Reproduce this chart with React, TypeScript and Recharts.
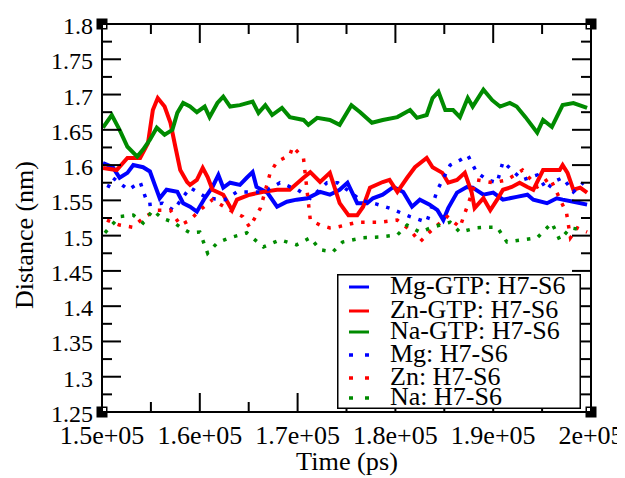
import React from "react";
import { LineChart, Line, XAxis, YAxis, ReferenceDot, Legend } from "recharts";

const FONT = "Liberation Serif";
const BLUE = "#0000ff";
const RED = "#ff0000";
const GREEN = "#008b00";

// ---- axis ticks ----
const xMajorTicks = [150000, 160000, 170000, 180000, 190000, 200000];
const xTickLabels = ["1.5e+05", "1.6e+05", "1.7e+05", "1.8e+05", "1.9e+05", "2e+05"];
const xMinorTicks = [155000, 165000, 175000, 185000, 195000];
const yMajorTicks = [1.25, 1.3, 1.35, 1.4, 1.45, 1.5, 1.55, 1.6, 1.65, 1.7, 1.75, 1.8];
const yTickLabels = ["1.25", "1.3", "1.35", "1.4", "1.45", "1.5", "1.55", "1.6", "1.65", "1.7", "1.75", "1.8"];
const yMinorTicks = [1.275, 1.325, 1.375, 1.425, 1.475, 1.525, 1.575, 1.625, 1.675, 1.725, 1.775];

// ---- series: [time (ps), distance (nm)] ----
const mgGtp: [number, number][] = [
  [150100, 1.603], [151100, 1.597], [151800, 1.582], [152600, 1.589], [153200, 1.6], [154200, 1.597],
  [154900, 1.591], [155400, 1.572], [155900, 1.553], [156600, 1.565], [157700, 1.562], [158300, 1.546],
  [159000, 1.541], [159700, 1.534], [160500, 1.553], [161300, 1.569], [161900, 1.586], [162400, 1.568],
  [163100, 1.575], [164100, 1.572], [164800, 1.582], [165400, 1.59], [165800, 1.569], [166900, 1.561],
  [167900, 1.541], [168900, 1.548], [169900, 1.551], [171000, 1.553], [172300, 1.562], [173300, 1.558],
  [174300, 1.565], [175100, 1.575], [176100, 1.546], [177100, 1.546], [177700, 1.553], [178700, 1.558],
  [179800, 1.569], [180800, 1.562], [181700, 1.541], [182500, 1.551], [183500, 1.544], [184300, 1.536],
  [184900, 1.522], [185400, 1.539], [186300, 1.561], [187300, 1.569], [187900, 1.568], [189000, 1.558],
  [190000, 1.561], [191000, 1.551], [192400, 1.555], [193500, 1.558], [194100, 1.551], [195500, 1.546],
  [196500, 1.553], [197100, 1.551], [198200, 1.548], [199600, 1.544],
];

const znGtp: [number, number][] = [
  [150100, 1.596], [151500, 1.593], [152600, 1.61], [153900, 1.61], [154700, 1.631], [155200, 1.678],
  [155700, 1.695], [156400, 1.683], [157000, 1.66], [157500, 1.626], [158000, 1.593], [158700, 1.576],
  [159000, 1.572], [159700, 1.579], [160300, 1.596], [160800, 1.583], [161300, 1.565], [162400, 1.558],
  [163300, 1.536], [163800, 1.551], [165100, 1.558], [166500, 1.562], [167900, 1.565], [169200, 1.565],
  [170600, 1.582], [171300, 1.59], [172300, 1.576], [173300, 1.589], [174300, 1.546], [175200, 1.529],
  [176100, 1.529], [176700, 1.541], [177400, 1.568], [178700, 1.576], [179400, 1.579], [180200, 1.562],
  [181200, 1.582], [182000, 1.597], [183200, 1.61], [183800, 1.597], [184800, 1.589], [185400, 1.575],
  [186300, 1.579], [187100, 1.589], [187800, 1.561], [188100, 1.539], [189000, 1.553], [189700, 1.536],
  [190400, 1.551], [191000, 1.565], [191900, 1.569], [192700, 1.575], [193500, 1.569], [194100, 1.565],
  [195100, 1.593], [195800, 1.593], [196800, 1.593], [197100, 1.6], [197600, 1.589], [198200, 1.565],
  [198900, 1.568], [199600, 1.561],
];

const naGtp: [number, number][] = [
  [150100, 1.653], [151000, 1.671], [151800, 1.65], [152600, 1.626], [153600, 1.612], [154200, 1.622],
  [154900, 1.636], [155600, 1.653], [156400, 1.643], [157200, 1.65], [157700, 1.674], [158300, 1.688],
  [159000, 1.683], [159700, 1.675], [160500, 1.683], [161000, 1.668], [161800, 1.688], [162400, 1.697],
  [163100, 1.683], [164100, 1.685], [165400, 1.69], [166000, 1.674], [166700, 1.685], [167400, 1.671],
  [168400, 1.681], [169200, 1.668], [170600, 1.664], [171100, 1.657], [172000, 1.667], [173300, 1.664],
  [174300, 1.657], [175500, 1.685], [176400, 1.675], [177600, 1.66], [178700, 1.664], [180200, 1.668],
  [181500, 1.678], [182200, 1.667], [183200, 1.671], [183800, 1.695], [184400, 1.704], [185100, 1.678],
  [185900, 1.678], [186600, 1.668], [187400, 1.695], [187900, 1.683], [189000, 1.707], [189900, 1.692],
  [190700, 1.683], [191700, 1.688], [192400, 1.683], [193300, 1.668], [194500, 1.646], [195100, 1.664],
  [196000, 1.654], [197100, 1.685], [198200, 1.688], [199600, 1.681],
];

const mgFree: [number, number][] = [
  [150600, 1.568], [151100, 1.582], [152700, 1.565], [153900, 1.576], [154700, 1.544], [156200, 1.546],
  [157300, 1.536], [159000, 1.568], [160800, 1.553], [162600, 1.551], [163800, 1.562], [166500, 1.562],
  [168200, 1.575], [170000, 1.565], [171300, 1.553], [173000, 1.575], [174100, 1.575], [176500, 1.55],
  [178000, 1.545], [179400, 1.539], [181500, 1.527], [183200, 1.519], [184300, 1.565], [185600, 1.6],
  [186600, 1.607], [187400, 1.614], [188300, 1.59], [189400, 1.579], [190400, 1.575], [191000, 1.605],
  [191900, 1.593], [193000, 1.579], [194500, 1.586], [195500, 1.565], [196100, 1.576], [197100, 1.582],
  [198200, 1.562], [199200, 1.575],
];

const znFree: [number, number][] = [
  [150500, 1.522], [151800, 1.515], [153100, 1.512], [154400, 1.527], [155600, 1.536], [157000, 1.536],
  [158000, 1.515], [159000, 1.522], [160000, 1.536], [161300, 1.551], [163100, 1.536], [164400, 1.527],
  [165100, 1.512], [166200, 1.539], [167200, 1.589], [167900, 1.605], [169200, 1.614], [169500, 1.626],
  [170600, 1.61], [171300, 1.522], [172300, 1.515], [173300, 1.511], [174000, 1.512], [176100, 1.519],
  [178400, 1.519], [180200, 1.522], [181500, 1.508], [182500, 1.491], [183500, 1.505], [185300, 1.527],
  [186600, 1.512], [188300, 1.579], [190000, 1.575], [191400, 1.579], [193000, 1.593], [194500, 1.569],
  [195800, 1.582], [197500, 1.532], [197900, 1.497], [198600, 1.511], [199600, 1.505],
];

const naFree: [number, number][] = [
  [150300, 1.504], [150800, 1.512], [151800, 1.527], [153200, 1.529], [154200, 1.518], [155200, 1.536],
  [156100, 1.525], [157300, 1.519], [158000, 1.512], [159000, 1.504], [160000, 1.505], [160800, 1.475],
  [161800, 1.49], [163100, 1.497], [164800, 1.504], [166500, 1.484], [168200, 1.494], [169900, 1.487],
  [171300, 1.497], [172300, 1.48], [173600, 1.477], [174600, 1.491], [176700, 1.497], [178400, 1.498],
  [180200, 1.501], [181200, 1.515], [182500, 1.505], [183800, 1.512], [185600, 1.519], [186600, 1.505],
  [188300, 1.511], [189400, 1.512], [190400, 1.512], [191400, 1.491], [193000, 1.494], [194500, 1.497],
  [196000, 1.518], [196800, 1.494], [197900, 1.511], [199200, 1.508],
];

const seriesNames = ["Mg-GTP: H7-S6", "Zn-GTP: H7-S6", "Na-GTP: H7-S6", "Mg: H7-S6", "Zn: H7-S6", "Na: H7-S6"];
const seriesColors = [BLUE, RED, GREEN, BLUE, RED, GREEN];
const seriesDotted = [false, false, false, true, true, true];
const seriesData = [mgGtp, znGtp, naGtp, mgFree, znFree, naFree];

const toRows = (arr: [number, number][]) => arr.map(([t, d]) => ({ t, d }));

const W = 617;
const H = 470;
const MAJOR = 19;
const MINOR = 10;

const xTicksAll = [...xMajorTicks, ...xMinorTicks].sort((a, b) => a - b);
const yTicksAll = [...yMajorTicks, ...yMinorTicks].sort((a, b) => a - b);

// Times-style advance widths (em), used to keep text at its serif width
const ADV: Record<string, number> = {
  "0": 0.5, "1": 0.5, "2": 0.5, "3": 0.5, "4": 0.5, "5": 0.5, "6": 0.5, "7": 0.5, "8": 0.5, "9": 0.5,
  ".": 0.25, e: 0.444, "+": 0.564, M: 0.889, g: 0.5, "-": 0.333, G: 0.722, T: 0.611, P: 0.556, ":": 0.278,
  " ": 0.25, H: 0.722, S: 0.556, Z: 0.611, n: 0.5, N: 0.722, a: 0.444, i: 0.278, m: 0.778, "(": 0.333,
  ")": 0.333, p: 0.5, s: 0.389, D: 0.722, t: 0.278, c: 0.444,
};
const serifWidth = (s: string, size: number) =>
  s.split("").reduce((acc, ch) => acc + (ADV[ch] ?? 0.5), 0) * size;

const CSS = `
#rs-root text.rsf, #rs-root .rsf, #rs-root .rsf tspan {
  font-family: "Liberation Serif" !important;
}
`;

function T(props: any) {
  const { size, children, ...rest } = props;
  const str = String(children);
  return (
    <text
      {...rest}
      className="rsf"
      fill="#000"
      fontFamily={FONT}
      fontSize={size}
      style={{ fontFamily: FONT, fontSize: size }}
      textLength={serifWidth(str, size)}
      lengthAdjust="spacingAndGlyphs"
    >
      {str}
    </text>
  );
}

function BottomTick(props: any) {
  const { x, y, payload } = props;
  const i = xMajorTicks.indexOf(payload.value);
  const len = i >= 0 ? MAJOR : MINOR;
  return (
    <g>
      <line x1={x} x2={x} y1={y} y2={y - len} stroke="#000" strokeWidth={2} />
      {i >= 0 && (
        <T x={x} y={y + 32} textAnchor="middle" size={26}>
          {xTickLabels[i]}
        </T>
      )}
    </g>
  );
}

function TopTick(props: any) {
  const { x, y, payload } = props;
  const len = xMajorTicks.indexOf(payload.value) >= 0 ? MAJOR : MINOR;
  return <line x1={x} x2={x} y1={y} y2={y + len} stroke="#000" strokeWidth={2} />;
}

function LeftTick(props: any) {
  const { x, y, payload } = props;
  const i = yMajorTicks.indexOf(payload.value);
  const len = i >= 0 ? MAJOR : MINOR;
  return (
    <g>
      <line x1={x} x2={x + len} y1={y} y2={y} stroke="#000" strokeWidth={2} />
      {i >= 0 && (
        <T x={x - 9} y={y + 10} textAnchor="end" size={24}>
          {yTickLabels[i]}
        </T>
      )}
    </g>
  );
}

function RightTick(props: any) {
  const { x, y, payload } = props;
  const len = yMajorTicks.indexOf(payload.value) >= 0 ? MAJOR : MINOR;
  return <line x1={x} x2={x - len} y1={y} y2={y} stroke="#000" strokeWidth={2} />;
}

const cornerShape = (sx: number, sy: number) => (p: any) => {
  const { cx, cy } = p;
  return (
    <g>
      <rect x={cx - 5.5} y={cy - 5.5} width={11} height={11} fill="#000" />
      <rect x={sx > 0 ? cx : cx - 4} y={sy > 0 ? cy : cy - 4} width={4} height={4} fill="#fff" />
    </g>
  );
};

const LEG_W = 244;
const LEG_H = 135;
const legendRows = [13, 37, 58, 81, 104, 124];

const renderLegend = () => (
  <svg width={LEG_W} height={LEG_H} style={{ display: "block" }}>
    <rect x={0.75} y={0.75} width={LEG_W - 1.5} height={LEG_H - 1.5} fill="#fff" stroke="#000" strokeWidth={1.5} />
    {seriesNames.map((name, i) => (
      <g key={name}>
        <line
          x1={12}
          x2={32}
          y1={legendRows[i]}
          y2={legendRows[i]}
          stroke={seriesColors[i]}
          strokeWidth={seriesDotted[i] ? 3.5 : 3}
          strokeDasharray={seriesDotted[i] ? "4 12" : undefined}
        />
        <T x={53} y={legendRows[i] + 7} size={26}>
          {name}
        </T>
      </g>
    ))}
  </svg>
);

export default function App() {
  return (
    <div id="rs-root" style={{ width: W, height: H, background: "#fff" }}>
      <style>{CSS}</style>
      <LineChart width={W} height={H} margin={{ top: 0, right: 0, bottom: 0, left: 0 }}>
        <XAxis
          dataKey="t"
          type="number"
          domain={[150000, 200000]}
          allowDataOverflow
          ticks={xTicksAll}
          interval={0}
          height={66}
          tickSize={0}
          tickMargin={0}
          tickLine={false}
          axisLine={{ stroke: "#000", strokeWidth: 2 }}
          tick={BottomTick}
          label={() => (
            <T x={339} y={462} textAnchor="middle" size={26}>
              Time (ps)
            </T>
          )}
        />
        <XAxis
          xAxisId="top"
          orientation="top"
          dataKey="t"
          type="number"
          domain={[150000, 200000]}
          allowDataOverflow
          ticks={xTicksAll}
          interval={0}
          height={16}
          tickSize={0}
          tickMargin={0}
          tickLine={false}
          axisLine={{ stroke: "#000", strokeWidth: 2 }}
          tick={TopTick}
        />
        <YAxis
          dataKey="d"
          type="number"
          domain={[1.25, 1.8]}
          allowDataOverflow
          ticks={yTicksAll}
          interval={0}
          width={94}
          tickSize={0}
          tickMargin={0}
          tickLine={false}
          axisLine={{ stroke: "#000", strokeWidth: 2 }}
          tick={LeftTick}
          label={() => (
            <T x={25} y={227} transform="rotate(-90 25 227)" textAnchor="middle" size={26}>
              Distance (nm)
            </T>
          )}
        />
        <YAxis
          yAxisId="right"
          orientation="right"
          dataKey="d"
          type="number"
          domain={[1.25, 1.8]}
          allowDataOverflow
          ticks={yTicksAll}
          interval={0}
          width={34}
          tickSize={0}
          tickMargin={0}
          tickLine={false}
          axisLine={{ stroke: "#000", strokeWidth: 2 }}
          tick={RightTick}
        />
        {seriesData.map((arr, i) => (
          <Line
            key={seriesNames[i]}
            data={toRows(arr)}
            dataKey="d"
            name={seriesNames[i]}
            type="linear"
            stroke={seriesColors[i]}
            strokeWidth={seriesDotted[i] ? 3.5 : 4}
            strokeDasharray={seriesDotted[i] ? "3.5 8" : undefined}
            dot={false}
            activeDot={false}
            isAnimationActive={false}
          />
        ))}
        <ReferenceDot x={150000} y={1.8} r={0} ifOverflow="visible" shape={cornerShape(1, 1)} />
        <ReferenceDot x={200000} y={1.8} r={0} ifOverflow="visible" shape={cornerShape(-1, 1)} />
        <ReferenceDot x={150000} y={1.25} r={0} ifOverflow="visible" shape={cornerShape(1, -1)} />
        <ReferenceDot x={200000} y={1.25} r={0} ifOverflow="visible" shape={cornerShape(-1, -1)} />
        <Legend
          layout="vertical"
          verticalAlign="middle"
          align="center"
          content={renderLegend}
          wrapperStyle={{ position: "absolute", left: 329, top: 266, width: LEG_W, height: LEG_H }}
        />
      </LineChart>
    </div>
  );
}
